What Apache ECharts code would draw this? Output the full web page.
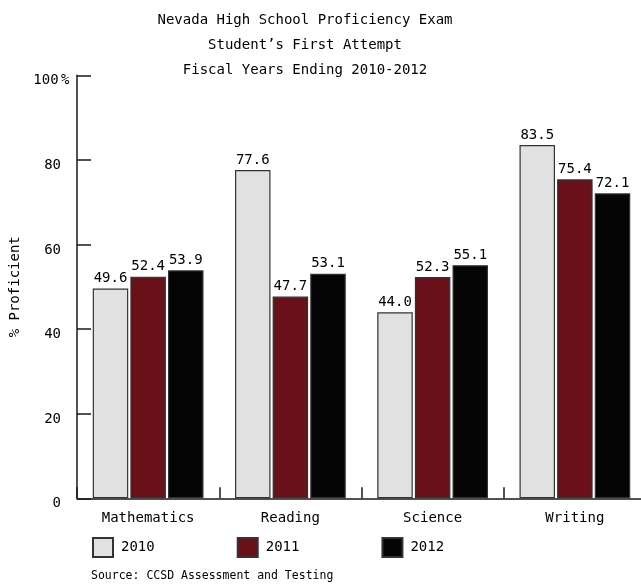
<!DOCTYPE html>
<html>
<head>
<meta charset="utf-8">
<script src="https://cdn.jsdelivr.net/npm/echarts@6/dist/echarts.min.js"></script>
<style>
  html, body { margin: 0; padding: 0; background: #ffffff; }
  #chart { width: 641px; height: 585px; }
</style>
</head>
<body>
<div id="chart"></div>
<script>
// Nevada HSPE first-attempt proficiency, by subject and fiscal year
const subjects = ['Mathematics', 'Reading', 'Science', 'Writing'];
const years = ['2010', '2011', '2012'];
const pct2010 = [49.6, 77.6, 44.0, 83.5];
const pct2011 = [52.4, 47.7, 52.3, 75.4];
const pct2012 = [53.9, 53.1, 55.1, 72.1];
const yTicks = [0, 20, 40, 60, 80, 100];

const FONT = '"DejaVu Sans Mono", "Liberation Mono", monospace';
const INK = '#000000';
const colors = ['#e0e1e0', '#6a1019', '#050505'];

const chart = echarts.init(document.getElementById('chart'), null, { renderer: 'canvas' });

function barSeries(name, values, color) {
  return {
    name: name,
    type: 'bar',
    data: values,
    barWidth: 35.5,
    barGap: '6%',
    itemStyle: { color: color, borderColor: '#333333', borderWidth: 1.2 },
    label: {
      show: true,
      position: 'top',
      distance: 3,
      fontFamily: FONT,
      fontSize: 14,
      color: INK,
      formatter: p => p.value.toFixed(1)
    }
  };
}

chart.setOption({
  animation: false,
  backgroundColor: '#ffffff',
  title: [
    {
      text: 'Nevada High School Proficiency Exam\nStudent\u2019s First Attempt\nFiscal Years Ending 2010-2012',
      left: 305,
      textAlign: 'center',
      top: 7.5,
      padding: 0,
      textStyle: { fontFamily: FONT, fontSize: 14, fontWeight: 'normal', color: INK, lineHeight: 25 }
    },
    {
      text: 'Source: CCSD Assessment and Testing',
      left: 91,
      top: 570,
      padding: 0,
      textStyle: { fontFamily: FONT, fontSize: 11.5, fontWeight: 'normal', color: INK }
    }
  ],
  legend: {
    data: years,
    left: 92,
    top: 537,
    padding: 0,
    itemWidth: 20,
    itemHeight: 19,
    itemGap: 82,
    icon: 'rect',
    textStyle: { fontFamily: FONT, fontSize: 14, color: INK, padding: [1, 0, 0, 3] }
  },
  grid: { left: 77, top: 75.3, width: 569, height: 423, outerBoundsMode: 'none', containLabel: false },
  xAxis: {
    type: 'category',
    data: subjects,
    axisLine: { lineStyle: { color: '#1a1a1a', width: 1.5 } },
    axisTick: { show: true, inside: true, length: 11, lineStyle: { color: '#1a1a1a', width: 1.5 } },
    axisLabel: { margin: 13, fontFamily: FONT, fontSize: 14, color: INK }
  },
  yAxis: {
    type: 'value',
    min: 0,
    max: 100,
    interval: 20,
    name: '% Proficient',
    nameLocation: 'middle',
    nameGap: 54,
    nameRotate: 90,
    nameTextStyle: { fontFamily: FONT, fontSize: 14, color: INK },
    splitLine: { show: false },
    axisLine: { show: true, lineStyle: { color: '#1a1a1a', width: 1.5 } },
    axisTick: { show: true, inside: true, length: 14, lineStyle: { color: '#1a1a1a', width: 1.5 } },
    axisLabel: {
      // numbers right-aligned in a fixed box; the top label carries a trailing "%"
      align: 'left',
      margin: 46,
      padding: [11, 0, 0, 0],
      fontFamily: FONT,
      fontSize: 14,
      color: INK,
      formatter: v => (v === yTicks[yTicks.length - 1] ? '{n|' + v + '}{p|%}' : '{n|' + v + '}'),
      rich: {
        n: { fontFamily: FONT, fontSize: 14, color: INK, width: 30, align: 'right' },
        p: { fontFamily: FONT, fontSize: 14, color: INK }
      }
    }
  },
  series: [
    barSeries(years[0], pct2010, colors[0]),
    barSeries(years[1], pct2011, colors[1]),
    barSeries(years[2], pct2012, colors[2])
  ]
});
</script>
</body>
</html>
